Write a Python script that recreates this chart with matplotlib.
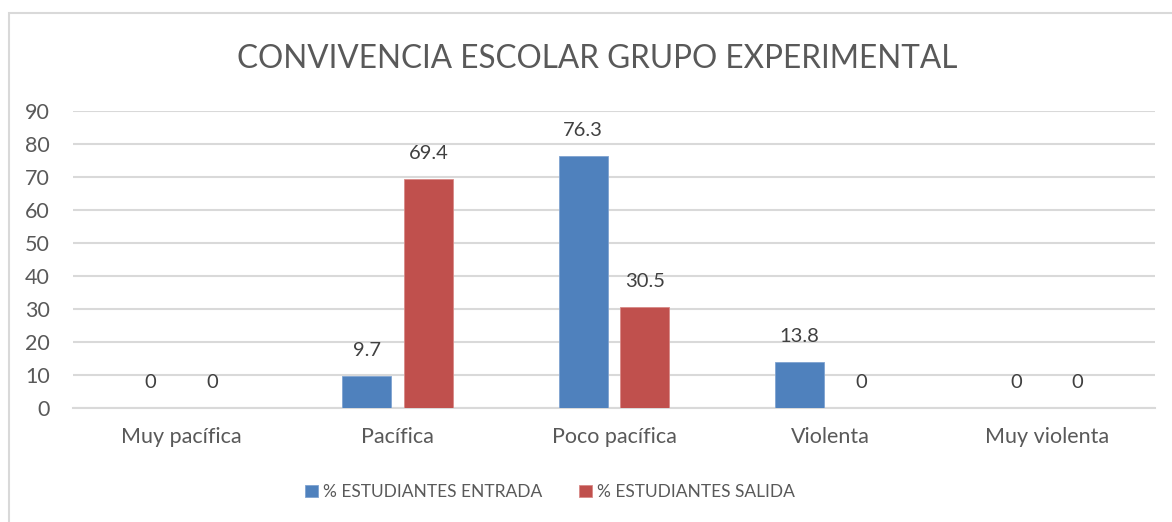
import matplotlib
matplotlib.use("Agg")
import matplotlib.pyplot as plt
import numpy as np
from matplotlib.patches import Rectangle

categories = ["Muy pacífica", "Pacífica", "Poco pacífica", "Violenta", "Muy violenta"]
entrada = [0, 9.7, 76.3, 13.8, 0]
salida = [0, 69.4, 30.5, 0, 0]
series_names = ["% ESTUDIANTES ENTRADA", "% ESTUDIANTES SALIDA"]
title = "CONVIVENCIA ESCOLAR GRUPO EXPERIMENTAL"
yticks = [0, 10, 20, 30, 40, 50, 60, 70, 80, 90]

plt.rcParams['font.family'] = ['Lato', 'DejaVu Sans']

W, H = 1172, 522
fig = plt.figure(figsize=(W / 100, H / 100), dpi=100)
ax = fig.add_axes([73 / W, 1 - 407.7 / H, (1155 - 73) / W, (407.7 - 111.3) / H])

# outer frame
fig.patches.append(Rectangle((8.5 / W, -0.2), 2.0, 1.2 - 12.5 / H, transform=fig.transFigure,
                             fill=False, edgecolor="#d9d9d9", linewidth=1.5))

x = np.arange(len(categories))
bw = 0.226
off = 0.143
b1 = ax.bar(x - off, entrada, bw, color="#4F81BD", edgecolor="#7fa3d1", linewidth=0.6, label=series_names[0], zorder=3)
b2 = ax.bar(x + off, salida, bw, color="#C0504D", edgecolor="#d88a88", linewidth=0.6, label=series_names[1], zorder=3)

for bars, vals in ((b1, entrada), (b2, salida)):
    for rect, v in zip(bars, vals):
        lbl = "0" if v == 0 else f"{v:.1f}"
        ax.annotate(lbl, (rect.get_x() + rect.get_width() / 2, v), xytext=(0, 18.5),
                    textcoords="offset points", ha="center", va="center",
                    fontsize=14.5, color="#404040")

ax.set_xlim(-0.5, len(categories) - 0.5)
ax.set_ylim(0, 90)
ax.set_yticks(yticks)
ax.set_xticks(x)
ax.set_xticklabels(categories)
ax.tick_params(axis="both", length=0, labelsize=15.5, colors="#595959")
ax.tick_params(axis="y", pad=16.5)
ax.tick_params(axis="x", pad=14)
for s in ("top", "right", "left"):
    ax.spines[s].set_visible(False)
ax.spines["bottom"].set_color("#d9d9d9")
ax.spines["bottom"].set_linewidth(1.5)
ax.grid(axis="y", color="#d9d9d9", linewidth=1.5, zorder=0)
ax.set_axisbelow(True)

fig.text(597 / W, 1 - 59 / H, title, ha="center", va="center", fontsize=22.7, color="#595959")

leg = fig.legend(handles=[b1, b2], labels=series_names, loc="center", bbox_to_anchor=(550 / W, 1 - 492 / H),
                 ncol=2, frameon=False, fontsize=12.5, handlelength=0.75, handleheight=0.75,
                 columnspacing=2.1, handletextpad=0.3)
for t in leg.get_texts():
    t.set_color("#595959")

fig.savefig("out.png", dpi=100)
